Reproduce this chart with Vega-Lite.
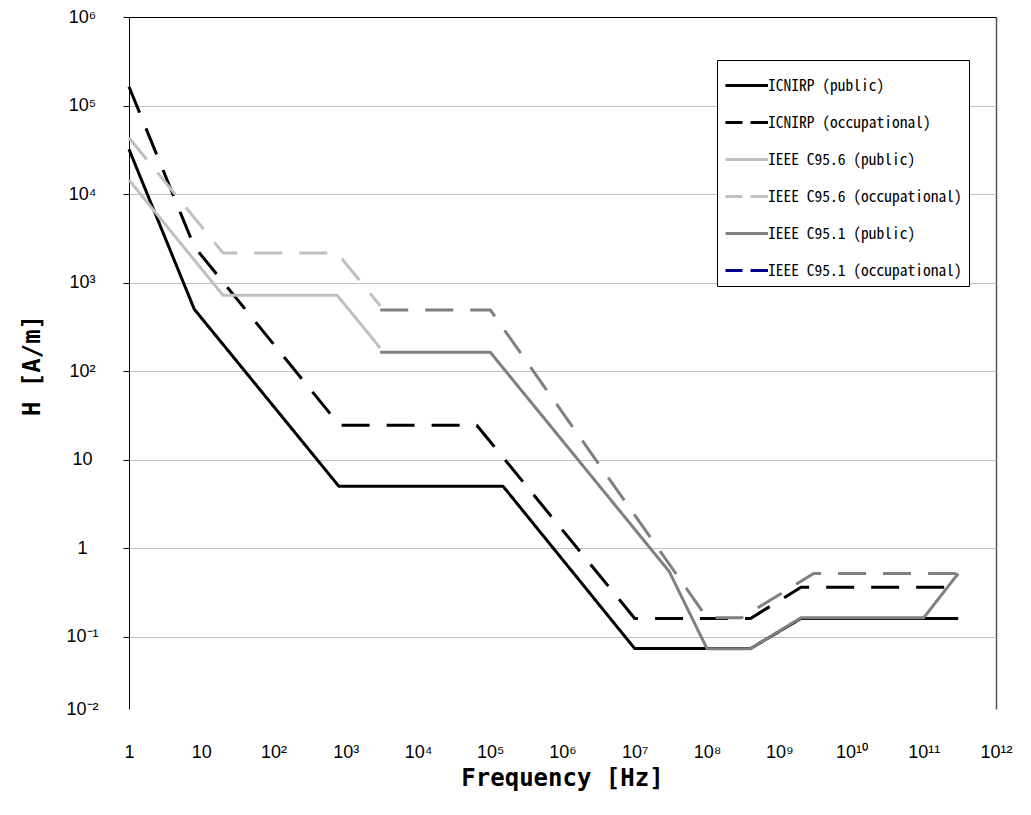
{
  "$schema": "https://vega.github.io/schema/vega-lite/v6.json",
  "width": 867,
  "height": 692,
  "autosize": {"type": "none"},
  "padding": {"left": 129, "top": 17, "right": 35, "bottom": 106},
  "background": "white",
  "config": {"view": {"stroke": null}},
  "datasets": {
    "main": [
      {"series": "ICNIRP (public)", "f": 1, "H": 32000},
      {"series": "ICNIRP (public)", "f": 8, "H": 500},
      {"series": "ICNIRP (public)", "f": 800, "H": 5},
      {"series": "ICNIRP (public)", "f": 150000, "H": 5},
      {"series": "ICNIRP (public)", "f": 10000000, "H": 0.073},
      {"series": "ICNIRP (public)", "f": 400000000, "H": 0.073},
      {"series": "ICNIRP (public)", "f": 2000000000, "H": 0.16},
      {"series": "ICNIRP (public)", "f": 300000000000, "H": 0.16},
      {"series": "ICNIRP (occupational)", "f": 1, "H": 163000},
      {"series": "ICNIRP (occupational)", "f": 8, "H": 2547},
      {"series": "ICNIRP (occupational)", "f": 820, "H": 24.4},
      {"series": "ICNIRP (occupational)", "f": 65000, "H": 24.4},
      {"series": "ICNIRP (occupational)", "f": 10000000, "H": 0.16},
      {"series": "ICNIRP (occupational)", "f": 400000000, "H": 0.16},
      {"series": "ICNIRP (occupational)", "f": 2000000000, "H": 0.36},
      {"series": "ICNIRP (occupational)", "f": 300000000000, "H": 0.36},
      {"series": "IEEE C95.6 (public)", "f": 1, "H": 14400},
      {"series": "IEEE C95.6 (public)", "f": 20, "H": 719},
      {"series": "IEEE C95.6 (public)", "f": 759, "H": 719},
      {"series": "IEEE C95.6 (public)", "f": 3000, "H": 182},
      {"series": "IEEE C95.6 (occupational)", "f": 1, "H": 43200},
      {"series": "IEEE C95.6 (occupational)", "f": 20, "H": 2160},
      {"series": "IEEE C95.6 (occupational)", "f": 759, "H": 2160},
      {"series": "IEEE C95.6 (occupational)", "f": 3000, "H": 546},
      {"series": "IEEE C95.1 (public)", "f": 3000, "H": 163},
      {"series": "IEEE C95.1 (public)", "f": 100000, "H": 163},
      {"series": "IEEE C95.1 (public)", "f": 30000000, "H": 0.543},
      {"series": "IEEE C95.1 (public)", "f": 100000000, "H": 0.0729},
      {"series": "IEEE C95.1 (public)", "f": 400000000, "H": 0.0729},
      {"series": "IEEE C95.1 (public)", "f": 2000000000, "H": 0.163},
      {"series": "IEEE C95.1 (public)", "f": 100000000000, "H": 0.163},
      {"series": "IEEE C95.1 (public)", "f": 300000000000, "H": 0.515}
    ],
    "occ951": [
      {"series": "IEEE C95.1 (occupational)", "f": 3000, "H": 490},
      {"series": "IEEE C95.1 (occupational)", "f": 100000, "H": 490},
      {"series": "IEEE C95.1 (occupational)", "f": 100000000, "H": 0.163},
      {"series": "IEEE C95.1 (occupational)", "f": 300000000, "H": 0.163},
      {"series": "IEEE C95.1 (occupational)", "f": 3000000000, "H": 0.515},
      {"series": "IEEE C95.1 (occupational)", "f": 300000000000, "H": 0.515}
    ]
  },
  "layer": [
    {
      "data": {"name": "main"},
      "mark": {"type": "line", "strokeWidth": 3, "strokeCap": "butt", "strokeJoin": "round"},
      "encoding": {
        "x": {
          "field": "f", "type": "quantitative",
          "scale": {"type": "log", "domain": [1, 1000000000000], "nice": false},
          "axis": {
            "values": [1, 10, 100, 1000, 10000, 100000, 1000000, 10000000, 100000000, 1000000000, 10000000000, 100000000000, 1000000000000],
            "labelExpr": "['1','10','10²','10³','10⁴','10⁵','10⁶','10⁷','10⁸','10⁹','10¹⁰','10¹¹','10¹²'][round(log(datum.value)/LN10)]",
            "grid": true,
            "gridColor": "#555555",
            "gridWidth": 1.5,
            "gridOpacity": {"condition": {"test": "datum.value > 500000000000", "value": 1}, "value": 0},
            "domain": false,
            "ticks": false,
            "tickSize": 0,
            "labelPadding": 48,
            "labelBaseline": "alphabetic",
            "labelAlign": "center",
            "labelFlush": false,
            "labelOverlap": false,
            "labelFont": "Liberation Sans",
            "labelFontSize": 18,
            "labelColor": "black",
            "title": "Frequency [Hz]",
            "titleFont": "DejaVu Sans Mono",
            "titleFontSize": 24,
            "titleFontWeight": "bold",
            "titleColor": "black",
            "titleBaseline": "alphabetic",
            "titleY": 76,
            "titleX": 433
          }
        },
        "y": {
          "field": "H", "type": "quantitative",
          "scale": {"type": "log", "domain": [0.01517, 1000000], "nice": false},
          "axis": {
            "values": [0.01517, 0.1, 1, 10, 100, 1000, 10000, 100000, 1000000],
            "labelExpr": "['10⁻²','10⁻¹','1','10','10²','10³','10⁴','10⁵','10⁶'][round(log(datum.value)/LN10)+2]",
            "grid": true,
            "gridColor": {"condition": {"test": "datum.value > 500000", "value": "#000000"}, "value": "#c0c0c0"},
            "gridOpacity": {"condition": {"test": "datum.value < 0.05", "value": 0}, "value": 1},
            "gridWidth": 1,
            "domain": true,
            "domainColor": "black",
            "domainWidth": 1,
            "ticks": true,
            "tickColor": "black",
            "tickSize": 6,
            "tickOpacity": {"condition": {"test": "datum.value < 0.05", "value": 0}, "value": 1},
            "labelAlign": "center",
            "labelBaseline": "middle",
            "labelPadding": 41,
            "labelOverlap": false,
            "labelFlush": false,
            "labelFont": "Liberation Sans",
            "labelFontSize": 18,
            "labelColor": "black",
            "title": "H [A/m]",
            "titleFont": "DejaVu Sans Mono",
            "titleFontSize": 24,
            "titleFontWeight": "bold",
            "titleColor": "black",
            "titleAngle": 270,
            "titleBaseline": "alphabetic",
            "titleAlign": "center",
            "titleX": -90,
            "titleY": 348
          }
        },
        "color": {
          "field": "series", "type": "nominal",
          "scale": {
            "domain": ["ICNIRP (public)", "ICNIRP (occupational)", "IEEE C95.6 (public)", "IEEE C95.6 (occupational)", "IEEE C95.1 (public)", "IEEE C95.1 (occupational)"],
            "range": ["#000000", "#000000", "#c0c0c0", "#c0c0c0", "#808080", "#000090"]
          },
          "legend": {
            "title": null,
            "orient": "none",
            "legendX": 588,
            "legendY": 43,
            "symbolType": "M-1,0L1.5,0",
            "symbolSize": 1156,
            "symbolStrokeWidth": 3,
            "rowPadding": 10,
            "padding": 7,
            "labelOffset": 7,
            "labelFont": "Noto Sans Mono CJK JP",
            "labelFontSize": 15.5,
            "labelColor": "black",
            "labelLimit": 400,
            "strokeColor": "black",
            "fillColor": "white",
            "encode": {"symbols": {"update": {"shape": {"signal": "indexof(datum.value, 'occupational') >= 0 ? 'M-1,0L0,0M0.47,0L1.5,0' : 'M-1,0L1.5,0'"}, "strokeDash": {"value": [1, 0]}}}}
          }
        },
        "strokeDash": {
          "field": "series", "type": "nominal",
          "scale": {
            "domain": ["ICNIRP (public)", "ICNIRP (occupational)", "IEEE C95.6 (public)", "IEEE C95.6 (occupational)", "IEEE C95.1 (public)", "IEEE C95.1 (occupational)"],
            "range": [[1, 0], [28, 17], [1, 0], [28, 17], [1, 0], [28, 17]]
          },
          "legend": {
            "title": null,
            "orient": "none",
            "legendX": 588,
            "legendY": 43,
            "symbolType": "M-1,0L1.5,0",
            "symbolSize": 1156,
            "symbolStrokeWidth": 3,
            "rowPadding": 10,
            "padding": 7,
            "labelOffset": 7,
            "labelFont": "Noto Sans Mono CJK JP",
            "labelFontSize": 15.5,
            "labelColor": "black",
            "labelLimit": 400,
            "strokeColor": "black",
            "fillColor": "white",
            "encode": {"symbols": {"update": {"shape": {"signal": "indexof(datum.value, 'occupational') >= 0 ? 'M-1,0L0,0M0.47,0L1.5,0' : 'M-1,0L1.5,0'"}, "strokeDash": {"value": [1, 0]}}}}
          }
        }
      }
    },
    {
      "data": {"name": "occ951"},
      "mark": {"type": "line", "strokeWidth": 3, "strokeCap": "butt", "strokeJoin": "round", "color": "#808080", "strokeDash": [28, 17]},
      "encoding": {
        "x": {"field": "f", "type": "quantitative"},
        "y": {"field": "H", "type": "quantitative"}
      }
    }
  ]
}
